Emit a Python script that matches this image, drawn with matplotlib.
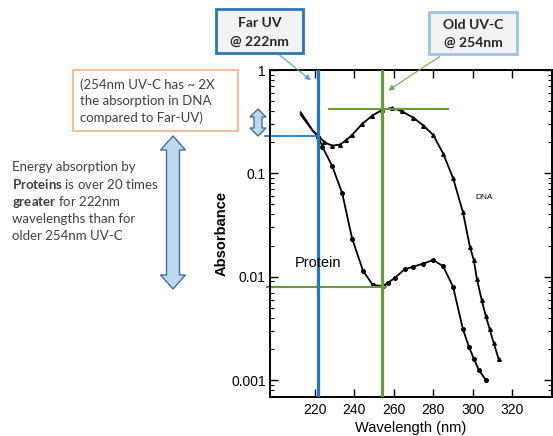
import matplotlib
matplotlib.use('Agg')
import matplotlib.pyplot as plt
from matplotlib.patches import Polygon, Rectangle, FancyArrowPatch

# absorbance spectra
dna_nm = [213, 216, 219, 222, 225, 229, 233, 236, 239, 244, 249, 254, 259, 264, 270,
          275, 280, 285, 290, 295, 298.5, 300.5, 302, 304.5, 306.5, 308.5, 310.5, 313]
dna_abs = [0.39, 0.32, 0.26, 0.23, 0.20, 0.185, 0.19, 0.21, 0.235, 0.30, 0.36, 0.41, 0.43,
           0.40, 0.345, 0.29, 0.235, 0.155, 0.09, 0.042, 0.0195, 0.0144, 0.0096, 0.0059,
           0.0042, 0.0031, 0.0023, 0.0016]
prot_nm = [213, 216, 219, 222, 224, 229, 234, 239, 244.5, 249.5, 254.5, 257, 260.5, 265.5,
           270, 275, 280, 285, 290, 295, 298, 300.5, 303, 306.5]
prot_abs = [0.37, 0.31, 0.26, 0.225, 0.18, 0.117, 0.064, 0.0234, 0.0114, 0.0083, 0.0081,
            0.0087, 0.0097, 0.0118, 0.0125, 0.0134, 0.0145, 0.0126, 0.008, 0.0031, 0.0021,
            0.0016, 0.00126, 0.001]

far_uv = 222
old_uvc = 254
prot_222 = 0.229
prot_254 = 0.008
dna_254 = 0.42

xticks = [220, 240, 260, 280, 300, 320]
yticks = [0.001, 0.01, 0.1, 1]
ytick_labels = ['0.001', '0.01', '0.1', '1']

W, H = 553, 436
BLUE = '#1F78C8'
GREEN = '#6A9A3C'
GREY_TXT = '#404040'

plt.rcParams['mathtext.fontset'] = 'custom'
plt.rcParams['mathtext.rm'] = 'Lato'
plt.rcParams['mathtext.bf'] = 'Lato:bold'

fig = plt.figure(figsize=(W / 100, H / 100), dpi=100)


def fx(px):
    return px / W


def fy(py):
    return 1 - py / H


ax = fig.add_axes([fx(270), fy(397), fx(552) - fx(270), fy(70) - fy(397)])
ax.set_yscale('log')
ax.set_xlim(197.5, 340)
ax.set_ylim(0.000685, 1.0)

ax.plot(dna_nm, dna_abs, color='black', lw=1.3)
ax.plot(dna_nm[3:], dna_abs[3:], ls='none', marker='^', ms=2.6, color='black')
ax.plot(prot_nm, prot_abs, color='black', lw=1.3)
ax.plot(prot_nm[3:], prot_abs[3:], ls='none', marker='o', ms=2.6, color='black')

ax.axvline(far_uv, color=BLUE, lw=2.3, zorder=3)
ax.axvline(old_uvc, color=GREEN, lw=2.3, zorder=3)
ax.plot([195, far_uv], [prot_222, prot_222], color=BLUE, lw=1.3, clip_on=False)
ax.plot([196, old_uvc + 2], [prot_254, prot_254], color=GREEN, lw=1.5, clip_on=False)
ax.plot([227.3, 287.4], [dna_254, dna_254], color=GREEN, lw=1.5)

narrow = 'Liberation Sans'
ax.set_xticks(xticks)
ax.set_xticklabels([str(t) for t in xticks], family=narrow, fontsize=10)
ax.set_yticks(yticks)
ax.set_yticklabels(ytick_labels, family=narrow, fontsize=10)
ax.tick_params(which='both', direction='in', top=True, right=True)
ax.tick_params(which='major', length=6, width=1)
ax.tick_params(which='minor', length=3, width=0.8)
ax.tick_params(axis='x', pad=4)
ax.tick_params(axis='y', pad=3)
for s in ax.spines.values():
    s.set_linewidth(1.4)
ax.set_xlabel('Wavelength (nm)', family=narrow, fontsize=10.5, labelpad=3)
ax.set_ylabel('Absorbance', family=narrow, fontsize=10.5, fontweight='bold', labelpad=2)

ax.text(0.727, 0.61, 'DNA', transform=ax.transAxes, family=narrow, fontsize=6,
        va='center')
ax.text(0.089, 0.41, 'Protein', transform=ax.transAxes, family=narrow, fontsize=10.5,
        va='center')

# callout boxes
def box(x0, y0, x1, y1, edge, face, lw):
    fig.patches.append(Rectangle((fx(x0), fy(y1)), fx(x1) - fx(x0), fy(y0) - fy(y1),
                                 transform=fig.transFigure, facecolor=face,
                                 edgecolor=edge, lw=lw))


box(216, 9, 303, 53, '#2E75B6', '#F2F2F2', 2)
box(429, 12, 517, 54, '#9DC3E6', '#F2F2F2', 2)
box(73, 70, 238, 131, '#F4B183', 'white', 1.2)

fig.text(fx(259.5), fy(23), 'Far UV', ha='center', va='center', family='Lato',
         fontweight='bold', fontsize=10, color='#262626')
fig.text(fx(259.5), fy(41.5), '@ 222nm', ha='center', va='center', family='Lato',
         fontweight='bold', fontsize=10, color='#262626')
fig.text(fx(473), fy(25), 'Old UV-C', ha='center', va='center', family='Lato',
         fontweight='bold', fontsize=10, color='#262626')
fig.text(fx(473), fy(43), '@ 254nm', ha='center', va='center', family='Lato',
         fontweight='bold', fontsize=10, color='#262626')

for i, line in enumerate(['(254nm UV-C has ~ 2X', 'the absorption in DNA',
                          'compared to Far-UV)']):
    fig.text(fx(80), fy(85 + 16.3 * i), line, ha='left', va='center', family='Lato',
             fontsize=9.5, color=GREY_TXT)

left_lines = ['Energy absorption by', r'$\bf{Proteins}$ is over 20 times',
              r'$\bf{greater}$ for 222nm', 'wavelengths than for', 'older 254nm UV-C']
for i, line in enumerate(left_lines):
    fig.text(fx(12), fy(167 + 17.3 * i), line, ha='left', va='center', family='Lato',
             fontsize=9.5, color=GREY_TXT)

fig.patches.append(FancyArrowPatch((fx(277), fy(53)), (fx(313), fy(82)),
                                   transform=fig.transFigure, arrowstyle='-|>',
                                   mutation_scale=8, color='#5B9BD5', lw=0.8))
fig.patches.append(FancyArrowPatch((fx(442), fy(55)), (fx(386), fy(92)),
                                   transform=fig.transFigure, arrowstyle='-|>',
                                   mutation_scale=8, color='#70AD47', lw=0.8))


def double_arrow(cx, top, bot, hw, sw, hl):
    pts = [(cx, top), (cx + hw, top + hl), (cx + sw, top + hl), (cx + sw, bot - hl),
           (cx + hw, bot - hl), (cx, bot), (cx - hw, bot - hl), (cx - sw, bot - hl),
           (cx - sw, top + hl), (cx - hw, top + hl)]
    fig.patches.append(Polygon([(fx(x), fy(y)) for x, y in pts], closed=True,
                               transform=fig.transFigure, facecolor='#BDD7EE',
                               edgecolor='#41719C', lw=1))


double_arrow(173, 136, 289, 12.5, 6.5, 14)
double_arrow(258, 109, 136, 8, 4, 8)

fig.savefig('out.png', dpi=100)
